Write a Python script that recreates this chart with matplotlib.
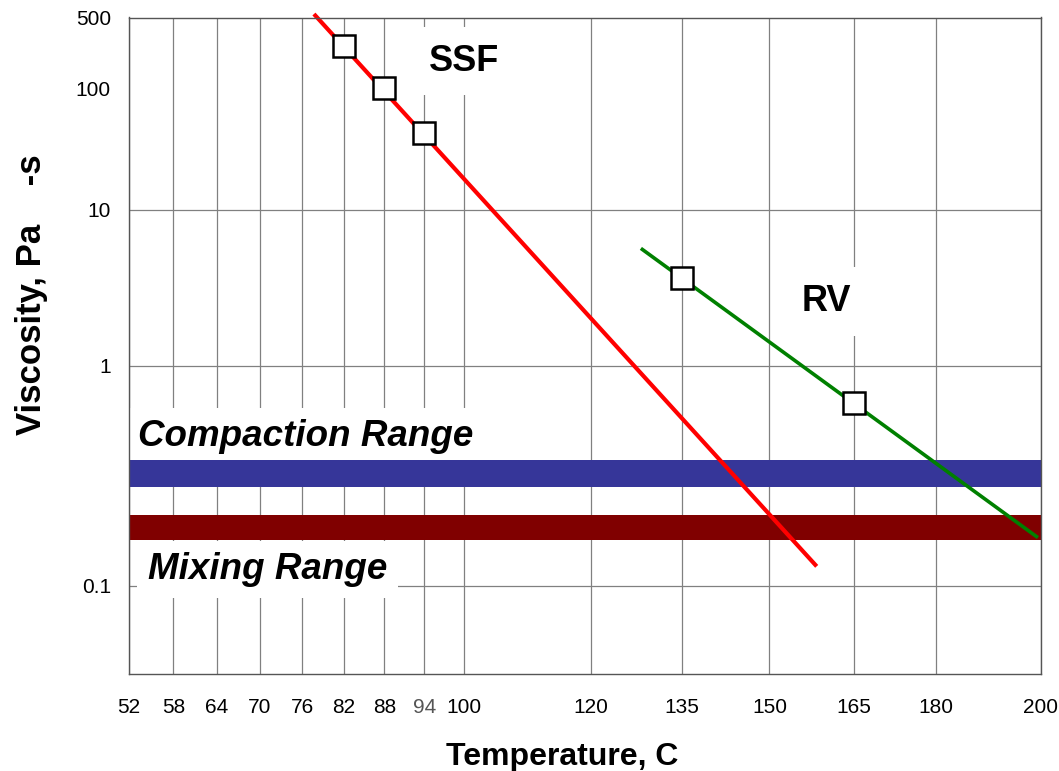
import numpy as np
import matplotlib.pyplot as plt
from matplotlib.ticker import NullLocator

plt.rcParams['font.family'] = ['Liberation Sans', 'DejaVu Sans']

# measured points (temperature in C, viscosity in Pa-s)
ssf_temp = [82, 88, 94]
ssf_visc = [257, 100, 40]
rv_temp = [135, 165]
rv_visc = [3.34, 0.63]

# fitted straight lines on the chart, given by their end points
ssf_line_temp = [77.7, 158.3]
ssf_line_visc = [544, 0.118]
rv_line_temp = [128.2, 199.4]
rv_line_visc = [5.29, 0.153]

# target viscosity bands
compaction_range = [0.25, 0.33]
mixing_range = [0.15, 0.19]

temp_ticks = [52, 58, 64, 70, 76, 82, 88, 94, 100, 120, 135, 150, 165, 180, 200]
visc_ticks = [0.1, 1, 10, 100, 500]
visc_grid = [0.1, 1, 10]


# x: log of absolute temperature, y: log-log of viscosity in cP
def t_fwd(t):
    return np.log10(np.asarray(t, dtype=float) + 273.15)


def t_inv(x):
    return 10 ** np.asarray(x, dtype=float) - 273.15


def v_fwd(v):
    v = np.asarray(v, dtype=float)
    with np.errstate(all='ignore'):
        return np.log10(np.log10(np.clip(v * 1000, 1.0001, None)))


def v_inv(y):
    y = np.asarray(y, dtype=float)
    with np.errstate(all='ignore'):
        return 10 ** (10 ** y) / 1000


fig = plt.figure(figsize=(10.59, 7.71), dpi=100)
ax = fig.add_axes([129 / 1059, 97 / 771, 912 / 1059, 656.5 / 771])

ax.set_xscale('function', functions=(t_fwd, t_inv))
ax.set_yscale('function', functions=(v_fwd, v_inv))
ax.set_xlim(52, 200)
ax.set_ylim(0.05, 500)

# grid
for t in temp_ticks:
    ax.axvline(t, color='#808080', lw=0.9, zorder=0.5)
for v in visc_grid:
    ax.axhline(v, color='#808080', lw=0.9, zorder=0.5)

# viscosity bands
ax.axhspan(*compaction_range, color='#363699', lw=0, zorder=2.5)
ax.axhspan(*mixing_range, color='#800000', lw=0, zorder=2.5)

# fitted lines and data points
ax.plot(ssf_line_temp, ssf_line_visc, color='#ff0000', lw=3, zorder=3,
        clip_on=False, solid_capstyle='butt')
ax.plot(rv_line_temp, rv_line_visc, color='#008000', lw=2.6, zorder=3,
        solid_capstyle='butt')
ax.plot(ssf_temp, ssf_visc, 's', ms=16.5, mfc='white', mec='black', mew=1.8, zorder=5)
ax.plot(rv_temp, rv_visc, 's', ms=16.5, mfc='white', mec='black', mew=1.8, zorder=5)

box = dict(facecolor='white', edgecolor='none', pad=12)
ax.text(100, 147, 'SSF', fontsize=26, fontweight='bold', ha='center',
        va='baseline', bbox=box, zorder=2)
ax.text(160, 2.08, 'RV', fontsize=26, fontweight='bold', ha='center',
        va='baseline', bbox=box, zorder=2)
box_r = dict(facecolor='white', edgecolor='none', pad=8)
ax.text(53.2, 0.384, 'Compaction Range', fontsize=26.5, fontweight='bold',
        fontstyle='italic', ha='left', va='baseline', bbox=box_r, zorder=2)
ax.text(54.5, 0.1054, 'Mixing Range', fontsize=26.5, fontweight='bold',
        fontstyle='italic', ha='left', va='baseline', bbox=box_r, zorder=2)

# ticks
ax.set_xticks(temp_ticks)
ax.set_xticklabels([str(t) for t in temp_ticks])
ax.set_yticks(visc_ticks)
ax.set_yticklabels(['0.1', '1', '10', '100', '500'])
ax.xaxis.set_minor_locator(NullLocator())
ax.yaxis.set_minor_locator(NullLocator())
ax.tick_params(axis='both', length=0, labelsize=15)
ax.tick_params(axis='x', pad=17)
ax.tick_params(axis='y', pad=13)
for lbl in ax.get_xticklabels():
    if lbl.get_text() == '94':
        lbl.set_color('#555555')

for s in ax.spines.values():
    s.set_color('#555555')
    s.set_linewidth(1)
    s.set_zorder(4)

fig.text(32 / 1059, 1 - 295 / 771, 'Viscosity, Pa    -s', rotation=90,
         fontsize=25, fontweight='bold', ha='center', va='center')
fig.text(562 / 1059, 1 - 765 / 771, 'Temperature, C', fontsize=23,
         fontweight='bold', ha='center', va='baseline')

fig.savefig('out.png', dpi=100)
